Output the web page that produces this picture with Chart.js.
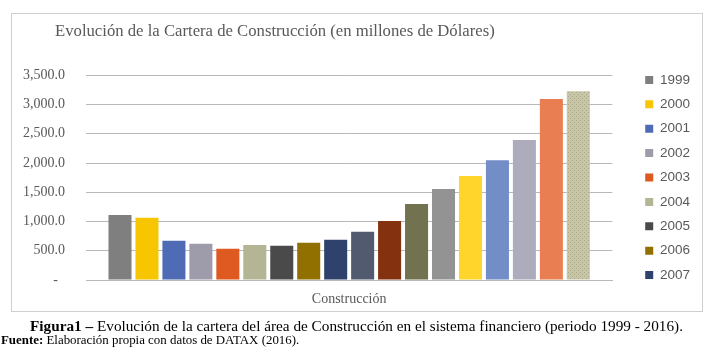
<!DOCTYPE html>
<html>
<head>
<meta charset="utf-8">
<script src="https://cdn.jsdelivr.net/npm/chart.js@4"></script>
<style>
  body { margin:0; background:#fff; width:713px; height:352px; position:relative; overflow:hidden; }
  #frame { position:absolute; left:11px; top:13px; width:690px; height:297px; border:1px solid #cfcfcf; }
  #wrap { position:absolute; left:0; top:0; width:713px; height:352px; }
  #caption { position:absolute; left:0; width:713px; top:317px; text-align:center; font-family:'Liberation Serif',serif; font-size:15.25px; color:#000; white-space:nowrap; }
  #source { position:absolute; left:1px; top:333px; font-family:'Liberation Serif',serif; font-size:12.9px; color:#000; white-space:nowrap; }
</style>
</head>
<body>
<div id="frame"></div>
<div id="wrap"><canvas id="chart" width="713" height="352"></canvas></div>
<div id="caption"><b>Figura1 –</b> Evolución de la cartera del área de Construcción en el sistema financiero (periodo 1999 - 2016).</div>
<div id="source"><b>Fuente:</b> Elaboración propia con datos de DATAX (2016).</div>
<script>
// cartera de construcción, millones de USD
const categories = ['Construcción'];
const years = ['1999','2000','2001','2002','2003','2004','2005','2006','2007','2008','2009','2010','2011','2012','2013','2014','2015','2016'];
const values = [1110, 1065, 670, 620, 535, 600, 585, 635, 690, 825, 1010, 1300, 1555, 1780, 2050, 2395, 3095, 3230];
const colors = ['#7f7f7f','#f7c600','#4f6bb5','#9e9bab','#df5a21','#b4b594','#4a4a4a','#917000','#2f426b','#525a70','#83310f','#727150','#939393','#ffd52c','#738dc6','#acacbd','#e87e52','#c7c6a6'];
const yMax = 3500, yStep = 500;
const legendCount = 9; // only the first years fit in the legend

// dotted fill for the last bar
function dots(base, dot) {
  const c = document.createElement('canvas');
  c.width = 4; c.height = 4;
  const g = c.getContext('2d');
  g.fillStyle = base; g.fillRect(0, 0, 4, 4);
  g.fillStyle = dot; g.fillRect(0, 0, 1, 1); g.fillRect(2, 2, 1, 1);
  return g.createPattern(c, 'repeat');
}

// nudge title and legend sideways, like the Excel original
const nudge = {
  id: 'nudge',
  afterLayout(chart) {
    chart.titleBlock.left += 40; chart.titleBlock.right += 40;
    chart.legend.left += 22; chart.legend.right += 22;
  }
};

const fmt = v => v === 0 ? '-  ' : v.toLocaleString('en-US', {minimumFractionDigits:1, maximumFractionDigits:1});

new Chart(document.getElementById('chart').getContext('2d'), {
  type: 'bar',
  data: {
    labels: categories,
    datasets: years.map((y, i) => ({
      label: y,
      data: [values[i]],
      backgroundColor: i === years.length - 1 ? dots(colors[i], '#a9a88a') : colors[i],
      categoryPercentage: 0.922,
      barPercentage: 0.854
    }))
  },
  options: {
    responsive: false,
    animation: false,
    layout: { padding: { left: 15, top: 13, right: 35, bottom: 10 } },
    plugins: {
      title: {
        display: true, align: 'start',
        text: 'Evolución de la Cartera de Construcción (en millones de Dólares)',
        color: '#595959',
        font: { family: 'Liberation Serif', size: 16.7, weight: 'normal' },
        padding: { top: 8.5, bottom: 33.8 }
      },
      legend: {
        position: 'right',
        labels: {
          color: '#595959',
          font: { family: 'Liberation Sans', size: 13.5 },
          boxWidth: 8, boxHeight: 8, padding: 10.9,
          filter: item => item.datasetIndex < legendCount
        }
      },
      tooltip: { enabled: false }
    },
    scales: {
      x: {
        grid: { display: false },
        border: { color: '#b8b8b8' },
        ticks: { color: '#595959', padding: 3, font: { family: 'Liberation Serif', size: 14 } },
        afterFit: s => { s.height = 62; }
      },
      y: {
        min: 0, max: yMax,
        grid: { color: '#b8b8b8', drawTicks: false },
        border: { display: false },
        ticks: { stepSize: yStep, padding: 21, color: '#595959', font: { family: 'Liberation Serif', size: 14 }, callback: fmt },
        afterFit: s => { s.width = 71; }
      }
    }
  },
  plugins: [nudge]
});
</script>
</body>
</html>
